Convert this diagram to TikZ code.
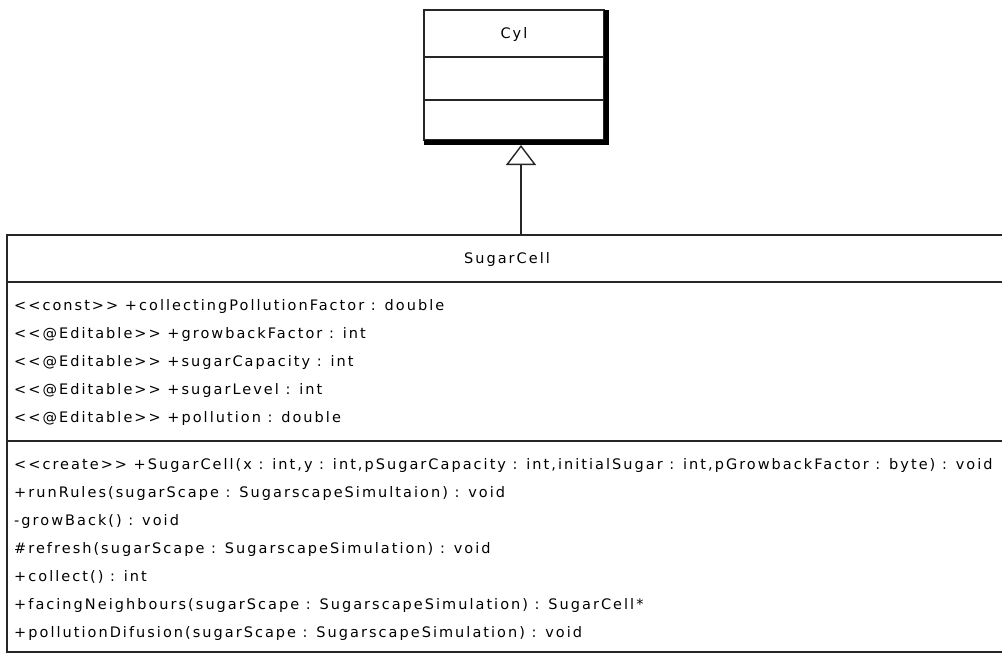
\documentclass[tikz,border=0pt]{standalone}
\usetikzlibrary{arrows.meta}
\font\umlfont="DejaVu Sans:letterspace=14" at 14.5pt
\begin{document}
\begin{tikzpicture}[x=1pt,y=-1pt,
  umlbox/.style={draw=black!85, line width=1.4pt, inner sep=0pt, outer sep=0pt, anchor=north west},
  umltext/.style={font=\umlfont, inner sep=0pt, anchor=west, text=black, text height=10.5pt, text depth=0pt},
  umltitle/.style={font=\umlfont, inner sep=0pt, text=black, text height=10.5pt, text depth=0pt},
  divider/.style={draw=black!85, line width=1.4pt},
  inherit/.style={draw=black!85, line width=1.4pt, -{Triangle[open, length=20pt, width=30pt, fill=white]}}]
\useasboundingbox (0,0) rectangle (1002,653);
\clip (0,0) rectangle (1002,653);
% superclass Cyl
\node[umlbox, minimum width=180pt, minimum height=130pt] (cyl) at (424,10) {};
\fill[black] (cyl.north east) rectangle ([xshift=5pt,yshift=-5pt]cyl.south east);
\fill[black] (cyl.south west) rectangle ([xshift=5pt,yshift=-5pt]cyl.south east);
\draw[divider] (424,57) -- (604,57);
\draw[divider] (424,100) -- (604,100);
\node[umltitle] (cylname) at (514,33.5) {Cyl};
% class SugarCell
\node[umlbox, minimum width=1000pt, minimum height=417pt] (sugar) at (7,235) {};
\draw[divider] (7,282) -- (1007,282);
\draw[divider] (7,441) -- (1007,441);
\node[umltitle] (sugarname) at (507,258.5) {SugarCell};
% attributes
\node[umltext] (a1) at (14,305.5) {<<const>> +collectingPollutionFactor : double};
\node[umltext] (a2) at (14,333.5) {<<@Editable>> +growbackFactor : int};
\node[umltext] (a3) at (14,361.5) {<<@Editable>> +sugarCapacity : int};
\node[umltext] (a4) at (14,389.5) {<<@Editable>> +sugarLevel : int};
\node[umltext] (a5) at (14,417.5) {<<@Editable>> +pollution : double};
% operations
\node[umltext] (o1) at (14,464) {<<create>> +SugarCell(x : int,y : int,pSugarCapacity : int,initialSugar : int,pGrowbackFactor : byte) : void};
\node[umltext] (o2) at (14,492) {+runRules(sugarScape : SugarscapeSimultaion) : void};
\node[umltext] (o3) at (14,520) {-growBack() : void};
\node[umltext] (o4) at (14,548) {\#refresh(sugarScape : SugarscapeSimulation) : void};
\node[umltext] (o5) at (14,576) {+collect() : int};
\node[umltext] (o6) at (14,604) {+facingNeighbours(sugarScape : SugarscapeSimulation) : SugarCell*};
\node[umltext] (o7) at (14,632) {+pollutionDifusion(sugarScape : SugarscapeSimulation) : void};
% generalization
\coordinate (gx) at (521,0);
\coordinate (cylshadow) at ([yshift=-5pt]cyl.south);
\draw[inherit] (sugar.north -| gx) -- (cylshadow -| gx);
\end{tikzpicture}
\end{document}
